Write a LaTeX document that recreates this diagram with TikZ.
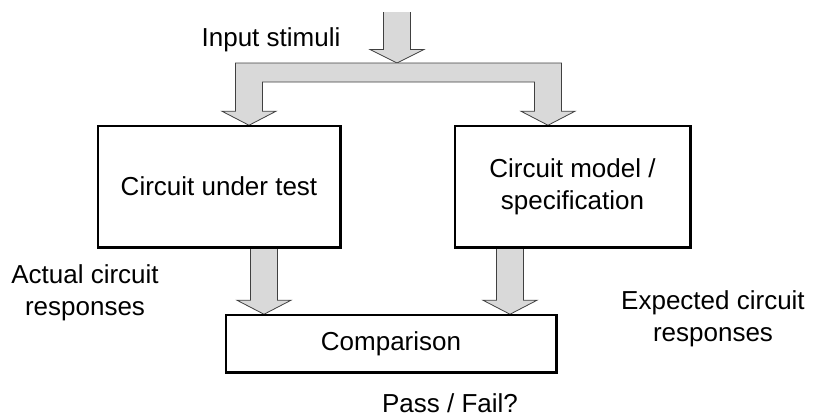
\documentclass[tikz,border=0pt]{standalone}
\usepackage{fontspec}
\setmainfont{Liberation Sans}
\usetikzlibrary{calc}

\tikzset{
  lbl/.style={font=\fontsize{26}{32}\selectfont, align=center, inner sep=0pt},
  blockbox/.style={draw=black, line width=1.5pt, fill=white, inner sep=0pt,
    font=\fontsize{26}{32}\selectfont, align=center},
  fatarrow/.style={fill=black!15, draw=black!75, line width=0.8pt, line join=miter},
}

% downward block arrow: #1 = top centre of the shaft, #2 = tip
\newcommand\fatdown[2]{%
  \filldraw[fatarrow] let \p1=(#1), \p2=(#2) in
    (\x1-13.5pt,\y1) -- (\x1-13.5pt,\y2+14pt) -- (\x1-27pt,\y2+14pt) -- (\x2,\y2)
    -- (\x1+27pt,\y2+14pt) -- (\x1+13.5pt,\y2+14pt) -- (\x1+13.5pt,\y1) -- cycle;
}

\begin{document}
\begin{tikzpicture}[x=1pt, y=-1pt]
  \useasboundingbox (0,0) rectangle (814,418);

  % blocks
  \node[blockbox, minimum width=242pt, minimum height=121pt] (cut) at (219,186.5) {Circuit under test};
  \node[blockbox, minimum width=235pt, minimum height=121pt] (spec) at (572.5,186.5) {Circuit model /\\specification};
  \node[blockbox, minimum width=330pt, minimum height=57pt] (cmp) at (391,343.5) {Comparison};

  % columns of the block arrows
  \coordinate (colIn) at (397,0);
  \coordinate (colL) at (249,0);
  \coordinate (colR) at (548,0);
  \coordinate (colA) at (264,0);
  \coordinate (colB) at (510,0);

  \coordinate (inTop) at (397,12);
  \coordinate (inTip) at (397,63);
  \coordinate (tipL) at (cut.north -| colL);
  \coordinate (tipR) at (spec.north -| colR);

  % incoming stimuli arrow (open at its top end)
  \path[fill=black!15] let \p1=(inTop), \p2=(inTip) in
    (\x1-13.5pt,\y1) -- (\x1-13.5pt,\y2+13.5pt) -- (\x1-27pt,\y2+13.5pt) -- (\x2,\y2)
    -- (\x1+27pt,\y2+13.5pt) -- (\x1+13.5pt,\y2+13.5pt) -- (\x1+13.5pt,\y1) -- cycle;
  \draw[draw=black!75, line width=0.8pt] let \p1=(inTop), \p2=(inTip) in
    (\x1-13.5pt,\y1) -- (\x1-13.5pt,\y2+13.5pt) -- (\x1-27pt,\y2+13.5pt) -- (\x2,\y2)
    -- (\x1+27pt,\y2+13.5pt) -- (\x1+13.5pt,\y2+13.5pt) -- (\x1+13.5pt,\y1);

  % branching arrow feeding both blocks
  \filldraw[fatarrow] let \p1=(tipL), \p2=(tipR), \p3=(inTip) in
    (\x1-13.5pt,\y3) -- (\x2+13.5pt,\y3) -- (\x2+13.5pt,\y2+14pt) -- (\x2+27pt,\y2+14pt)
    -- (\p2) -- (\x2-27pt,\y2+14pt) -- (\x2-13.5pt,\y2+14pt) -- (\x2-13.5pt,\y3-19pt)
    -- (\x1+13.5pt,\y3-19pt) -- (\x1+13.5pt,\y1+14pt) -- (\x1+27pt,\y1+14pt)
    -- (\p1) -- (\x1-27pt,\y1+14pt) -- (\x1-13.5pt,\y1+14pt) -- cycle;

  % responses into the comparison
  \fatdown{cut.south -| colA}{cmp.north -| colA}
  \fatdown{spec.south -| colB}{cmp.north -| colB}

  % redraw block outlines on top of the arrows
  \draw[line width=1.5pt] (cut.south west) rectangle (cut.north east);
  \draw[line width=1.5pt] (spec.south west) rectangle (spec.north east);
  \draw[line width=1.5pt] (cmp.south west) rectangle (cmp.north east);

  % labels
  \node[lbl] (stim) at (271,40) {Input stimuli};
  \node[lbl] (act) at (85,293) {Actual circuit\\responses};
  \node[lbl] (exp) at (713,319) {Expected circuit\\responses};
  \node[lbl] (pf) at (450,403) {Pass / Fail?};
\end{tikzpicture}
\end{document}
